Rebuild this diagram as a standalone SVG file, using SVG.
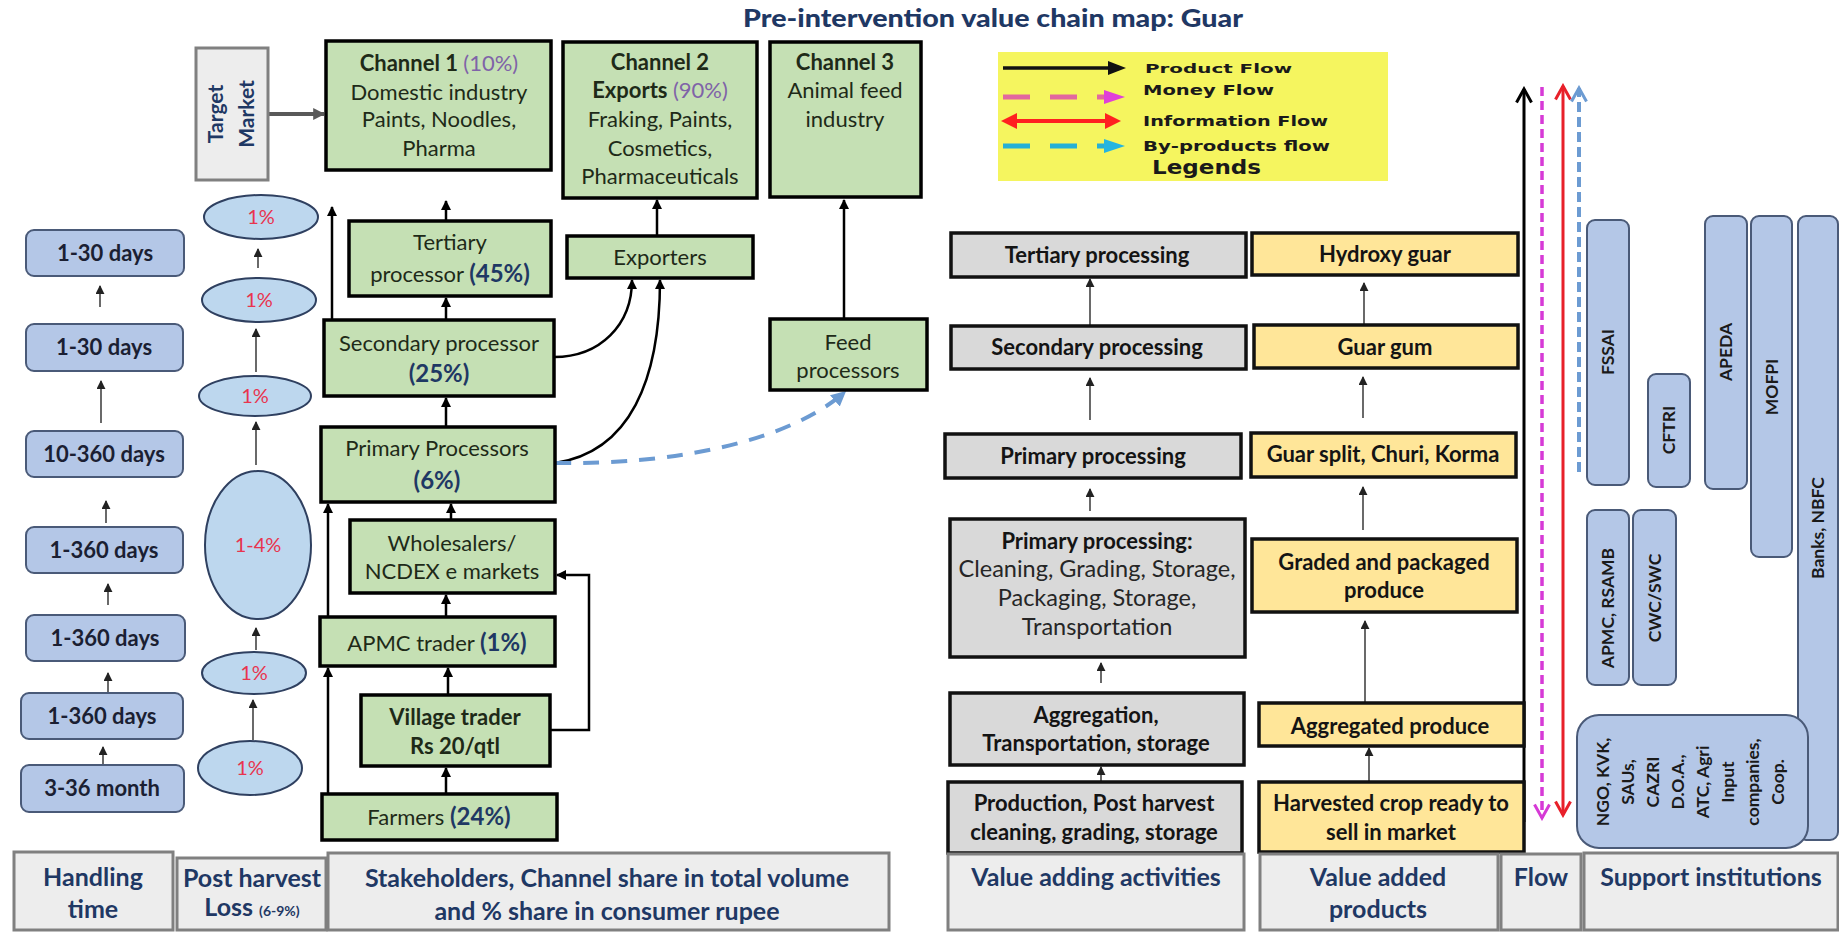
<svg xmlns="http://www.w3.org/2000/svg" width="1839" height="932" viewBox="0 0 1839 932">
<style>
.g{fill:#C5E0B4;stroke:#000;stroke-width:3.5}
.gy{fill:#D9D9D9;stroke:#111;stroke-width:3.5}
.yl{fill:#FFE699;stroke:#111;stroke-width:3.5}
.hb{fill:#B4C7E7;stroke:#4A5A78;stroke-width:2}
.el{fill:#BDD7EE;stroke:#2F4060;stroke-width:2}
.hd{fill:#EDEDED;stroke:#808080;stroke-width:3}
.sp{fill:#B4C7E7;stroke:#4A5A78;stroke-width:2}
text{font-family:Lato,"Liberation Sans",sans-serif}
.c{text-anchor:middle}
.tg{font-size:22px;fill:#1E2A18}
.b{font-weight:bold}
.pc{font-weight:bold;font-size:24px;fill:#1F3864}
.pu{fill:#7F63A8}
.tv{font-size:22px;font-weight:bold;fill:#141414}
.tr{font-size:23.5px;fill:#262626}
.th{font-size:22px;font-weight:bold;fill:#1B1F33}
.rd{font-size:20px;fill:#E8344E}
.hdr{font-size:25px;font-weight:bold;fill:#1F3864}
.st{font-size:17.5px;font-weight:bold;fill:#1A1A1A}
.lg{font-family:"DejaVu Sans",sans-serif;font-weight:bold;fill:#1A1A1A}
.k{fill:none;stroke:#000;stroke-width:2.5}
.kg{fill:none;stroke:#444;stroke-width:1.6}
</style>
<defs>
<marker id="ak" viewBox="0 0 10 10" refX="9" refY="5" markerWidth="10" markerHeight="10" markerUnits="userSpaceOnUse" orient="auto"><path d="M0,0 L10,5 L0,10 z" fill="#000"/></marker>
<marker id="ag" viewBox="0 0 10 10" refX="9" refY="5" markerWidth="9" markerHeight="9" markerUnits="userSpaceOnUse" orient="auto"><path d="M0,0 L10,5 L0,10 z" fill="#222"/></marker>
<marker id="at" viewBox="0 0 10 10" refX="9" refY="5" markerWidth="12" markerHeight="12" markerUnits="userSpaceOnUse" orient="auto"><path d="M0,0 L10,5 L0,10 z" fill="#595959"/></marker>
<marker id="ab" viewBox="0 0 10 10" refX="9" refY="5" markerWidth="15" markerHeight="15" markerUnits="userSpaceOnUse" orient="auto"><path d="M0,0 L10,5 L0,10 z" fill="#6C9BD2"/></marker>
<marker id="ck" viewBox="0 0 12 12" refX="10" refY="6" markerWidth="18" markerHeight="18" markerUnits="userSpaceOnUse" orient="auto-start-reverse"><path d="M1,1 L10,6 L1,11" fill="none" stroke="#000" stroke-width="2"/></marker>
<marker id="cm" viewBox="0 0 12 12" refX="10" refY="6" markerWidth="18" markerHeight="18" markerUnits="userSpaceOnUse" orient="auto-start-reverse"><path d="M1,1 L10,6 L1,11" fill="none" stroke="#D63AD6" stroke-width="2"/></marker>
<marker id="cr" viewBox="0 0 12 12" refX="10" refY="6" markerWidth="18" markerHeight="18" markerUnits="userSpaceOnUse" orient="auto-start-reverse"><path d="M1,1 L10,6 L1,11" fill="none" stroke="#E8202A" stroke-width="2"/></marker>
<marker id="cb" viewBox="0 0 12 12" refX="10" refY="6" markerWidth="18" markerHeight="18" markerUnits="userSpaceOnUse" orient="auto-start-reverse"><path d="M1,1 L10,6 L1,11" fill="none" stroke="#6C9BD2" stroke-width="2"/></marker>
</defs>
<rect width="1839" height="932" fill="#fff"/>

<text x="993" y="27" class="c" font-weight="900" font-size="24" fill="#1F3864" textLength="500" lengthAdjust="spacingAndGlyphs">Pre-intervention value chain map: Guar</text>

<g id="legend">
<rect x="998" y="52" width="390" height="129" fill="#F5F55F"/>
<path d="M1003,68 H1112" stroke="#111" stroke-width="3.5"/>
<polygon points="1108,61 1126,68 1108,75" fill="#111"/>
<path d="M1003,97 H1030 M1050,97 H1077 M1097,97 H1108" stroke="#E2679F" stroke-width="5"/>
<polygon points="1104,90 1125,97 1104,104" fill="#E040D8"/>
<path d="M1012,121 H1110" stroke="#FF2020" stroke-width="4"/>
<polygon points="1017,113 1001,121 1017,129" fill="#FF2020"/>
<polygon points="1105,113 1121,121 1105,129" fill="#FF2020"/>
<path d="M1003,146 H1030 M1050,146 H1077 M1097,146 H1108" stroke="#25B0D5" stroke-width="5"/>
<polygon points="1104,139 1125,146 1104,153" fill="#25B5E0"/>
<text x="1145" y="73" class="lg" font-size="13" textLength="147" lengthAdjust="spacingAndGlyphs">Product Flow</text>
<text x="1143" y="95" class="lg" font-size="14" textLength="131" lengthAdjust="spacingAndGlyphs">Money Flow</text>
<text x="1143" y="126" class="lg" font-size="14" textLength="185" lengthAdjust="spacingAndGlyphs">Information Flow</text>
<text x="1143" y="151" class="lg" font-size="14" textLength="187" lengthAdjust="spacingAndGlyphs">By-products flow</text>
<text x="1152" y="174" class="lg" font-size="19" textLength="109" lengthAdjust="spacingAndGlyphs">Legends</text>
</g>

<g id="connectors">
<path d="M268,114 H324" fill="none" stroke="#595959" stroke-width="4" marker-end="url(#at)"/>
<path class="k" d="M446,221 V201" marker-end="url(#ak)"/>
<path class="k" d="M657,236 V200" marker-end="url(#ak)"/>
<path class="k" d="M844,319 V200" marker-end="url(#ak)"/>
<path class="k" d="M446,320 V298" marker-end="url(#ak)"/>
<path class="k" d="M446,427 V398" marker-end="url(#ak)"/>
<path class="k" d="M451,520 V504" marker-end="url(#ak)"/>
<path class="k" d="M446,617 V595" marker-end="url(#ak)"/>
<path class="k" d="M448,695 V668" marker-end="url(#ak)"/>
<path class="k" d="M446,794 V768" marker-end="url(#ak)"/>
<path class="k" d="M328,794 V668" marker-end="url(#ak)"/>
<path class="k" d="M328,617 V504" marker-end="url(#ak)"/>
<path class="k" d="M332,320 V207" marker-end="url(#ak)"/>
<path class="k" d="M550,730 H589 V575 H557" marker-end="url(#ak)"/>
<path class="k" d="M554,357 C600,357 632,325 632,280" marker-end="url(#ak)"/>
<path class="k" d="M555,463 C630,452 660,380 660,280" marker-end="url(#ak)"/>
<path d="M555,463 C680,465 790,440 845,392" fill="none" stroke="#6C9BD2" stroke-width="4" stroke-dasharray="16,12" marker-end="url(#ab)"/>
<path class="kg" d="M100,307 V286" marker-end="url(#ag)"/>
<path class="kg" d="M101,423 V381" marker-end="url(#ag)"/>
<path class="kg" d="M106,523 V501" marker-end="url(#ag)"/>
<path class="kg" d="M108,605 V584" marker-end="url(#ag)"/>
<path class="kg" d="M108,692 V673" marker-end="url(#ag)"/>
<path class="kg" d="M103,765 V747" marker-end="url(#ag)"/>
<path class="kg" d="M258,268 V249" marker-end="url(#ag)"/>
<path class="kg" d="M256,372 V329" marker-end="url(#ag)"/>
<path class="kg" d="M256,465 V422" marker-end="url(#ag)"/>
<path class="kg" d="M256,650 V628" marker-end="url(#ag)"/>
<path class="kg" d="M253,740 V700" marker-end="url(#ag)"/>
<path class="kg" d="M1090,326 V279" marker-end="url(#ag)"/>
<path class="kg" d="M1090,420 V378" marker-end="url(#ag)"/>
<path class="kg" d="M1090,511 V489" marker-end="url(#ag)"/>
<path class="kg" d="M1101,683 V663" marker-end="url(#ag)"/>
<path class="kg" d="M1101,782 V767" marker-end="url(#ag)"/>
<path class="kg" d="M1364,325 V283" marker-end="url(#ag)"/>
<path class="kg" d="M1363,418 V377" marker-end="url(#ag)"/>
<path class="kg" d="M1363,530 V487" marker-end="url(#ag)"/>
<path class="kg" d="M1365,703 V621" marker-end="url(#ag)"/>
<path class="kg" d="M1369,790 V748" marker-end="url(#ag)"/>
<path d="M1524,822 V89" fill="none" stroke="#000" stroke-width="3" marker-end="url(#ck)"/>
<path d="M1542,87 V818" fill="none" stroke="#D63AD6" stroke-width="3.5" stroke-dasharray="9,5" marker-end="url(#cm)"/>
<path d="M1563,86 V815" fill="none" stroke="#E8202A" stroke-width="3" marker-start="url(#cr)" marker-end="url(#cr)"/>
<path d="M1579,472 V88" fill="none" stroke="#6C9BD2" stroke-width="4" stroke-dasharray="10,5" marker-end="url(#cb)"/>
</g>

<g id="target-market"><rect x="196" y="48" width="72" height="132" class="hd"/>
<text transform="translate(231,114) rotate(-90)" class="c b" font-size="21" fill="#1F3864"><tspan x="0" y="-8">Target</tspan><tspan x="0" y="23">Market</tspan></text></g>

<g id="ht1"><rect x="26" y="230" width="158" height="46" rx="8" class="hb"/><text x="105" y="261" class="c th">1-30 days</text></g>
<g id="ht2"><rect x="26" y="324" width="157" height="47" rx="8" class="hb"/><text x="104" y="355" class="c th">1-30 days</text></g>
<g id="ht3"><rect x="26" y="431" width="157" height="46" rx="8" class="hb"/><text x="104" y="462" class="c th">10-360 days</text></g>
<g id="ht4"><rect x="26" y="527" width="157" height="46" rx="8" class="hb"/><text x="104" y="558" class="c th">1-360 days</text></g>
<g id="ht5"><rect x="26" y="615" width="159" height="46" rx="8" class="hb"/><text x="105" y="646" class="c th">1-360 days</text></g>
<g id="ht6"><rect x="21" y="693" width="162" height="46" rx="8" class="hb"/><text x="102" y="724" class="c th">1-360 days</text></g>
<g id="ht7"><rect x="21" y="765" width="163" height="47" rx="8" class="hb"/><text x="102" y="796" class="c th">3-36 month</text></g>

<g id="loss1"><ellipse cx="261" cy="217" rx="57" ry="22" class="el"/><text x="261" y="224" class="c rd">1%</text></g>
<g id="loss2"><ellipse cx="259" cy="300" rx="57" ry="22" class="el"/><text x="259" y="307" class="c rd">1%</text></g>
<g id="loss3"><ellipse cx="255" cy="396" rx="56" ry="20" class="el"/><text x="255" y="403" class="c rd">1%</text></g>
<g id="loss4"><ellipse cx="258" cy="545" rx="53" ry="74" class="el"/><text x="258" y="552" class="c rd">1-4%</text></g>
<g id="loss5"><ellipse cx="254" cy="673" rx="52" ry="21" class="el"/><text x="254" y="680" class="c rd">1%</text></g>
<g id="loss6"><ellipse cx="250" cy="768" rx="52" ry="27" class="el"/><text x="250" y="775" class="c rd">1%</text></g>

<g id="channel1"><rect x="326" y="41" width="225" height="129" class="g"/>
<text class="c tg"><tspan x="439" y="71"><tspan class="b">Channel 1 </tspan><tspan class="pu">(10%)</tspan></tspan><tspan x="439" y="100">Domestic industry</tspan><tspan x="439" y="127">Paints, Noodles,</tspan><tspan x="439" y="156">Pharma</tspan></text></g>
<g id="channel2"><rect x="563" y="42" width="194" height="156" class="g"/>
<text class="c tg"><tspan x="660" y="70" class="b">Channel 2</tspan><tspan x="660" y="98"><tspan class="b">Exports </tspan><tspan class="pu">(90%)</tspan></tspan><tspan x="660" y="127">Fraking, Paints,</tspan><tspan x="660" y="156">Cosmetics,</tspan><tspan x="660" y="184">Pharmaceuticals</tspan></text></g>
<g id="channel3"><rect x="770" y="42" width="151" height="155" class="g"/>
<text class="c tg"><tspan x="845" y="70" class="b">Channel 3</tspan><tspan x="845" y="98">Animal feed</tspan><tspan x="845" y="127">industry</tspan></text></g>
<g id="tertiary"><rect x="349" y="221" width="202" height="75" class="g"/>
<text class="c tg"><tspan x="450" y="250">Tertiary</tspan><tspan x="450" y="282">processor <tspan class="pc">(45%)</tspan></tspan></text></g>
<g id="exporters"><rect x="567" y="236" width="186" height="42" class="g"/><text x="660" y="265" class="c tg">Exporters</text></g>
<g id="secondary"><rect x="324" y="320" width="230" height="76" class="g"/>
<text class="c tg"><tspan x="439" y="351">Secondary processor</tspan><tspan x="439" y="382" class="pc">(25%)</tspan></text></g>
<g id="feed"><rect x="770" y="319" width="157" height="71" class="g"/>
<text class="c tg"><tspan x="848" y="350">Feed</tspan><tspan x="848" y="378">processors</tspan></text></g>
<g id="primary"><rect x="321" y="427" width="234" height="75" class="g"/>
<text class="c tg"><tspan x="437" y="456">Primary Processors</tspan><tspan x="437" y="489" class="pc">(6%)</tspan></text></g>
<g id="wholesalers"><rect x="350" y="520" width="205" height="73" class="g"/>
<text class="c tg"><tspan x="452" y="551">Wholesalers/</tspan><tspan x="452" y="579">NCDEX e markets</tspan></text></g>
<g id="apmc"><rect x="320" y="617" width="235" height="49" class="g"/>
<text x="437" y="651" class="c tg">APMC trader <tspan class="pc">(1%)</tspan></text></g>
<g id="village"><rect x="361" y="695" width="189" height="71" class="g"/>
<text class="c tg b"><tspan x="455" y="725">Village trader</tspan><tspan x="455" y="754">Rs 20/qtl</tspan></text></g>
<g id="farmers"><rect x="322" y="794" width="235" height="46" class="g"/>
<text x="439" y="825" class="c tg">Farmers <tspan class="pc">(24%)</tspan></text></g>

<g id="va-tertiary"><rect x="951" y="233" width="295" height="44" class="gy"/><text x="1097" y="263" class="c tv">Tertiary processing</text></g>
<g id="va-secondary"><rect x="951" y="326" width="295" height="43" class="gy"/><text x="1097" y="355" class="c tv">Secondary processing</text></g>
<g id="va-primary"><rect x="945" y="434" width="296" height="44" class="gy"/><text x="1093" y="464" class="c tv">Primary processing</text></g>
<g id="va-primary2"><rect x="950" y="519" width="295" height="138" class="gy"/>
<text class="c tr"><tspan x="1097" y="549" class="tv">Primary processing:</tspan><tspan x="1097" y="577">Cleaning, Grading, Storage,</tspan><tspan x="1097" y="606">Packaging, Storage,</tspan><tspan x="1097" y="635">Transportation</tspan></text></g>
<g id="va-aggregation"><rect x="950" y="693" width="294" height="72" class="gy"/>
<text class="c tv"><tspan x="1096" y="723">Aggregation,</tspan><tspan x="1096" y="751">Transportation, storage</tspan></text></g>
<g id="va-production"><rect x="948" y="782" width="294" height="71" class="gy"/>
<text class="c tv"><tspan x="1094" y="811">Production, Post harvest</tspan><tspan x="1094" y="840">cleaning, grading, storage</tspan></text></g>

<g id="vp-hydroxy"><rect x="1252" y="233" width="266" height="42" class="yl"/><text x="1385" y="262" class="c tv">Hydroxy guar</text></g>
<g id="vp-gum"><rect x="1254" y="325" width="264" height="43" class="yl"/><text x="1385" y="355" class="c tv">Guar gum</text></g>
<g id="vp-split"><rect x="1251" y="433" width="265" height="44" class="yl"/><text x="1383" y="462" class="c tv">Guar split, Churi, Korma</text></g>
<g id="vp-graded"><rect x="1252" y="539" width="265" height="73" class="yl"/>
<text class="c tv"><tspan x="1384" y="570">Graded and packaged</tspan><tspan x="1384" y="598">produce</tspan></text></g>
<g id="vp-aggregated"><rect x="1259" y="703" width="265" height="43" class="yl"/><text x="1390" y="734" class="c tv">Aggregated produce</text></g>
<g id="vp-harvested"><rect x="1259" y="782" width="265" height="70" class="yl"/>
<text class="c tv"><tspan x="1391" y="811">Harvested crop ready to</tspan><tspan x="1391" y="840">sell in market</tspan></text></g>

<g id="si-banks"><rect x="1798" y="216" width="40" height="624" rx="8" class="sp"/><text transform="translate(1818,528) rotate(-90)" y="6" class="c st">Banks, NBFC</text></g>
<g id="si-fssai"><rect x="1587" y="220" width="42" height="265" rx="8" class="sp"/><text transform="translate(1608,352) rotate(-90)" y="6" class="c st">FSSAI</text></g>
<g id="si-cftri"><rect x="1648" y="374" width="42" height="113" rx="8" class="sp"/><text transform="translate(1669,430) rotate(-90)" y="6" class="c st">CFTRI</text></g>
<g id="si-apeda"><rect x="1705" y="216" width="42" height="273" rx="8" class="sp"/><text transform="translate(1726,352) rotate(-90)" y="6" class="c st">APEDA</text></g>
<g id="si-mofpi"><rect x="1751" y="216" width="41" height="341" rx="8" class="sp"/><text transform="translate(1772,387) rotate(-90)" y="6" class="c st">MOFPI</text></g>
<g id="si-apmc"><rect x="1587" y="510" width="42" height="175" rx="8" class="sp"/><text transform="translate(1608,608) rotate(-90)" y="6" class="c st">APMC, RSAMB</text></g>
<g id="si-cwc"><rect x="1633" y="510" width="43" height="175" rx="8" class="sp"/><text transform="translate(1655,598) rotate(-90)" y="6" class="c st">CWC/SWC</text></g>
<g id="si-ngo"><rect x="1577" y="715" width="231" height="133" rx="22" class="sp"/>
<text transform="translate(1690,782) rotate(-90)" class="c st"><tspan x="0" y="-81.5">NGO, KVK,</tspan><tspan x="0" y="-56.5">SAUs,</tspan><tspan x="0" y="-31.5">CAZRI</tspan><tspan x="0" y="-6.5">D.O.A.,</tspan><tspan x="0" y="18.5">ATC, Agri</tspan><tspan x="0" y="43.5">Input</tspan><tspan x="0" y="68.5">companies,</tspan><tspan x="0" y="93.5">Coop.</tspan></text></g>

<g id="hdr-handling"><rect x="14" y="852" width="159" height="78" class="hd"/><text class="c hdr"><tspan x="93" y="886">Handling</tspan><tspan x="93" y="918">time</tspan></text></g>
<g id="hdr-loss"><rect x="177" y="858" width="149" height="72" class="hd"/><text class="c hdr" font-size="19.5"><tspan x="252" y="887">Post harvest</tspan><tspan x="252" y="916">Loss <tspan font-size="14">(6-9%)</tspan></tspan></text></g>
<g id="hdr-stake"><rect x="328" y="853" width="561" height="77" class="hd"/><text class="c hdr"><tspan x="607" y="887">Stakeholders, Channel share in total volume</tspan><tspan x="607" y="920">and % share in consumer rupee</tspan></text></g>
<g id="hdr-va"><rect x="948" y="854" width="296" height="76" class="hd"/><text x="1096" y="886" class="c hdr">Value adding activities</text></g>
<g id="hdr-vp"><rect x="1260" y="854" width="238" height="76" class="hd"/><text class="c hdr"><tspan x="1378" y="886">Value added</tspan><tspan x="1378" y="918">products</tspan></text></g>
<g id="hdr-flow"><rect x="1501" y="854" width="80" height="76" class="hd"/><text x="1541" y="886" class="c hdr">Flow</text></g>
<g id="hdr-support"><rect x="1584" y="853" width="254" height="77" class="hd"/><text x="1711" y="886" class="c hdr">Support institutions</text></g>
</svg>
